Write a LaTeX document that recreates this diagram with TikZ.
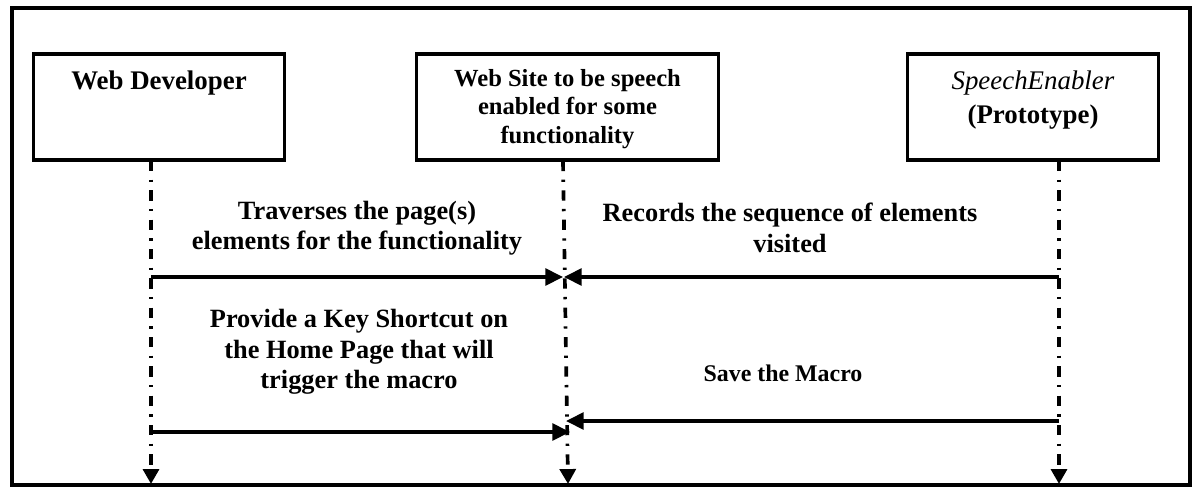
\documentclass[tikz,border=0pt]{standalone}
\usepackage{fontspec}
\setmainfont{Liberation Serif}
\usetikzlibrary{arrows.meta}
\begin{document}
\begin{tikzpicture}[x=0.02cm,y=-0.02cm,
  frame/.style={line width=2.1pt},
  actor/.style={draw,line width=2.1pt,minimum width=252*0.567pt,minimum height=106*0.567pt,inner sep=0pt,align=center},
  life/.style={line width=2.1pt,dash pattern=on 5.8pt off 4.8pt on 1.3pt off 4.8pt,-{Triangle[length=8.5pt,width=9pt]}},
  msg/.style={line width=2pt,-{Triangle[length=10pt,width=9.5pt]}},
  lbl/.style={font=\bfseries\fontsize{15}{17.3}\selectfont,align=center},
  boxtxt/.style={font=\bfseries\fontsize{14}{16.4}\selectfont,align=center}]
\useasboundingbox (0,0) rectangle (1200,501);
\draw[frame] (12,8) rectangle (1190,485);
% actors
\node[actor] (dev) at (159,107) {};
\node[font=\bfseries\fontsize{15.3}{17}\selectfont] (devt) at (159,83) {Web Developer};
\node[actor,minimum width=303*0.567pt] (site) at (567.5,107) {};
\node[boxtxt] (sitet) at (567.5,109) {Web Site to be speech\\enabled for some\\functionality};
\node[actor] (se) at (1033,107) {};
\node[font=\fontsize{15.3}{19.5}\selectfont,align=center] (set) at (1033,100) {\textit{SpeechEnabler}\\\textbf{(Prototype)}};
% lifeline ends
\coordinate (devend) at (151,484);
\coordinate (siteend) at (568,484);
\coordinate (seend) at (1059,484);
\coordinate (devtop) at (151,161);
\coordinate (sitetop) at (563,161);
\coordinate (setop) at (1059,161);
\draw[life] (devtop) -- (devend);
\draw[life] (sitetop) -- (siteend);
\draw[life] (setop) -- (seend);
% message endpoints
\coordinate (a1s) at (151,277);
\coordinate (a1e) at (563,277);
\coordinate (a2s) at (1059,277);
\coordinate (a2e) at (564,277);
\coordinate (a3s) at (151,432);
\coordinate (a3e) at (570,432);
\coordinate (a4s) at (1059,421);
\coordinate (a4e) at (566,421);
\draw[msg] (a1s) -- (a1e);
\draw[msg] (a2s) -- (a2e);
\draw[msg] (a3s) -- (a3e);
\draw[msg] (a4s) -- (a4e);
% labels
\node[lbl] (l1) at (357,228) {Traverses the page(s)\\elements for the functionality};
\node[lbl] (l2) at (790,228) {Records the sequence of elements\\visited};
\node[lbl] (l3) at (359,352) {Provide a Key Shortcut on\\the Home Page that will\\trigger the macro};
\node[font=\bfseries\fontsize{13.6}{16}\selectfont] (l4) at (783,373) {Save the Macro};
\end{tikzpicture}
\end{document}
